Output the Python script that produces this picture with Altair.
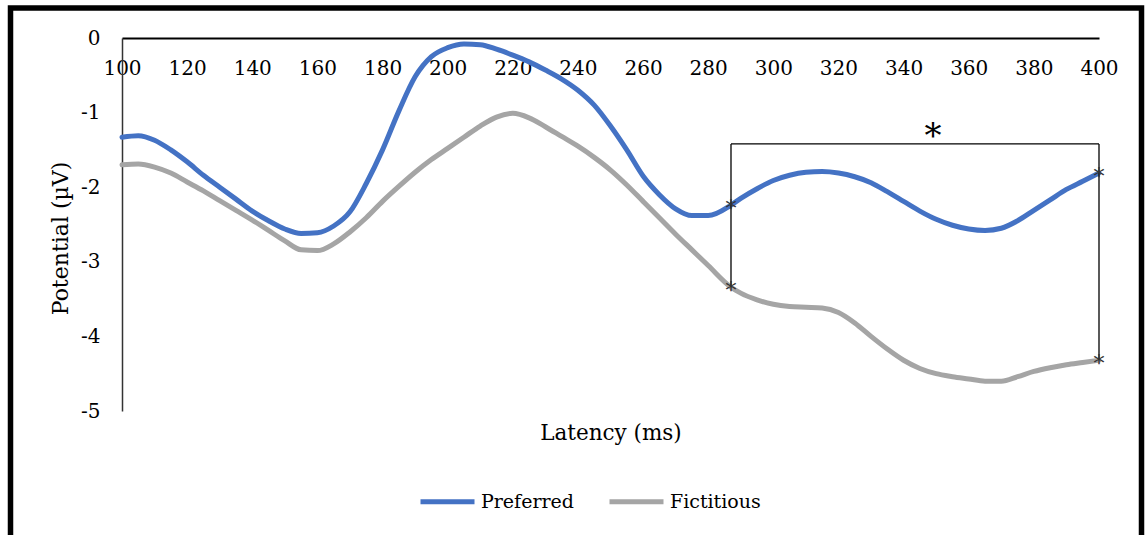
import altair as alt
import pandas as pd

# ---- data ----
latency = [100, 105, 110, 115, 120, 125, 130, 135, 140, 145, 150, 155, 160, 165, 170, 175,
           180, 185, 190, 195, 200, 205, 210, 215, 220, 225, 230, 235, 240, 245, 250, 255,
           260, 265, 270, 275, 280, 287, 290, 295, 300, 305, 310, 315, 320, 325, 330, 335,
           340, 345, 350, 355, 360, 365, 370, 375, 380, 385, 390, 395, 400]
preferred = [-1.33, -1.31, -1.37, -1.50, -1.66, -1.84, -2.00, -2.16, -2.32, -2.45, -2.56, -2.62,
             -2.61, -2.52, -2.33, -1.95, -1.50, -0.98, -0.52, -0.25, -0.13, -0.08, -0.09, -0.15,
             -0.23, -0.32, -0.43, -0.55, -0.70, -0.90, -1.18, -1.50, -1.85, -2.10, -2.29, -2.38,
             -2.38, -2.24, -2.15, -2.02, -1.91, -1.84, -1.80, -1.79, -1.81, -1.86, -1.94, -2.06,
             -2.19, -2.32, -2.43, -2.51, -2.56, -2.58, -2.55, -2.45, -2.31, -2.17, -2.03, -1.92,
             -1.81]
fictitious = [-1.70, -1.69, -1.73, -1.81, -1.93, -2.05, -2.18, -2.31, -2.44, -2.58, -2.72, -2.84,
              -2.85, -2.76, -2.60, -2.41, -2.19, -1.99, -1.80, -1.63, -1.48, -1.33, -1.18, -1.06,
              -1.01, -1.07, -1.19, -1.32, -1.45, -1.60, -1.77, -1.97, -2.19, -2.41, -2.63, -2.84,
              -3.05, -3.34, -3.42, -3.51, -3.57, -3.60, -3.61, -3.62, -3.68, -3.82, -4.00, -4.17,
              -4.32, -4.43, -4.50, -4.54, -4.57, -4.60, -4.60, -4.54, -4.47, -4.42, -4.38, -4.35,
              -4.32]
series_names = ["Preferred", "Fictitious"]
series_colors = ["#4472C4", "#A5A5A5"]

marker_x = [287, 287, 400, 400]
marker_y = [-2.24, -3.34, -1.81, -4.32]
bracket_x = [287, 400]
bracket_bottom = [-3.34, -4.32]
bracket_top = -1.42
star_x = 349
y_ticks = [0, -1, -2, -3, -4, -5]
x_ticks = list(range(100, 401, 20))

FONT = "DejaVu Serif"
W, H = 977, 373

rows = []
for name, vals in zip(series_names, [preferred, fictitious]):
    for t, v in zip(latency, vals):
        rows.append({"latency": t, "potential": v, "series": name})
df = pd.DataFrame(rows)

x_scale = alt.Scale(domain=[100, 400], nice=False, zero=False)
y_scale = alt.Scale(domain=[-5, 0], nice=False, zero=False)

lines = alt.Chart(df).mark_line(strokeWidth=5, interpolate="monotone", strokeCap="round").encode(
    x=alt.X("latency:Q", scale=x_scale,
            axis=alt.Axis(orient="bottom", offset=-H, values=x_ticks, ticks=False, tickSize=0,
                          labelPadding=20, labelFlush=False, grid=False,
                          domainColor="#000000", domainWidth=2,
                          labelFont=FONT, labelFontSize=20, labelColor="#000000",
                          title="Latency (ms)", titleFont=FONT, titleFontSize=21.5,
                          titleFontWeight="normal", titleColor="#000000",
                          titleY=395, titleBaseline="middle")),
    y=alt.Y("potential:Q", scale=y_scale,
            axis=alt.Axis(orient="left", values=y_ticks, ticks=False, tickSize=0,
                          labelPadding=22, labelFlush=False, grid=False,
                          domainColor="#333333", domainWidth=1.5,
                          labelExpr="datum.value == 0 ? '0' : '-' + abs(datum.value)",
                          labelFont=FONT, labelFontSize=20, labelColor="#000000",
                          title="Potential (µV)", titleFont=FONT, titleFontSize=22,
                          titleFontWeight="normal", titleColor="#000000",
                          titleX=-62, titleY=200, titleBaseline="middle", titleAlign="center",
                          titleAngle=270)),
    color=alt.Color("series:N", scale=alt.Scale(domain=series_names, range=series_colors),
                    legend=alt.Legend(title=None, orient="none", direction="horizontal",
                                      legendX=296, legendY=434, symbolType="stroke",
                                      symbolSize=2916, symbolStrokeWidth=5,
                                      labelFont=FONT, labelFontSize=19, labelColor="#000000",
                                      labelOffset=4, columnPadding=25)),
    order="latency:Q",
)

bracket_v = alt.Chart(pd.DataFrame({"x": bracket_x, "y": [bracket_top] * 2, "y2": bracket_bottom})).mark_rule(
    color="#000000", strokeWidth=1.3).encode(
    x=alt.X("x:Q", scale=x_scale), y=alt.Y("y:Q", scale=y_scale), y2="y2:Q")
bracket_h = alt.Chart(pd.DataFrame({"x": [bracket_x[0]], "x2": [bracket_x[1]], "y": [bracket_top]})).mark_rule(
    color="#000000", strokeWidth=1.3).encode(
    x=alt.X("x:Q", scale=x_scale), x2="x2:Q", y=alt.Y("y:Q", scale=y_scale))

markers = alt.Chart(pd.DataFrame({"x": marker_x, "y": marker_y})).mark_text(
    text="*", font=FONT, fontSize=22, color="#333333", baseline="alphabetic", dy=11).encode(
    x=alt.X("x:Q", scale=x_scale), y=alt.Y("y:Q", scale=y_scale))

star = alt.Chart(pd.DataFrame({"x": [star_x], "y": [bracket_top]})).mark_text(
    text="*", font=FONT, fontSize=34, color="#000000", baseline="alphabetic", dy=3).encode(
    x=alt.X("x:Q", scale=x_scale), y=alt.Y("y:Q", scale=y_scale))

frame = alt.Chart(pd.DataFrame({"a": [0]})).mark_rect(
    fill=None, stroke="#000000", strokeWidth=5.5).encode(
    x=alt.value(10.5 - 122), x2=alt.value(1141.5 - 122),
    y=alt.value(8 - 38), y2=alt.value(600 - 38))

chart = alt.layer(frame, lines, bracket_v, bracket_h, markers, star).properties(
    width=W, height=H,
    autosize=alt.AutoSizeParams(type="none"),
    padding={"left": 122, "top": 38, "right": 46, "bottom": 124},
    background="#ffffff",
).configure(font=FONT).configure_view(stroke=None)

chart.save("out.html", embed_options={"renderer": "svg", "actions": False})
